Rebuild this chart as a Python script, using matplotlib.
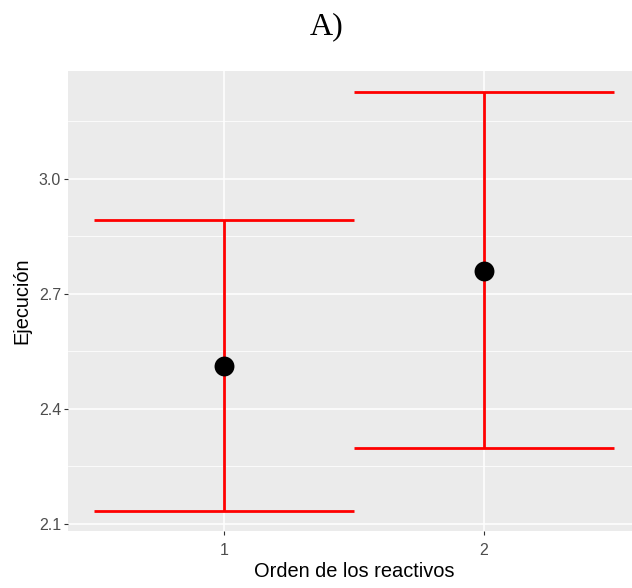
import matplotlib
matplotlib.use("Agg")
import matplotlib.pyplot as plt
from matplotlib.ticker import MultipleLocator

# mean and confidence limits per item order
orden = [1, 2]
media = [2.511, 2.758]
lim_inf = [2.134, 2.298]
lim_sup = [2.893, 3.226]

plt.rcParams['font.family'] = ['Liberation Sans', 'DejaVu Sans']

fig = plt.figure(figsize=(6.32, 5.88), dpi=100)
ax = fig.add_axes([0.1076, 0.0961, 0.905, 0.7832])

ax.set_facecolor('#EBEBEB')
for s in ax.spines.values():
    s.set_visible(False)

# error bars: caps one unit wide, like ggplot's width = 1
for x, lo, hi in zip(orden, lim_inf, lim_sup):
    ax.plot([x, x], [lo, hi], color='#FF0000', lw=2.0, solid_capstyle='butt', zorder=3)
    ax.plot([x - 0.5, x + 0.5], [lo, lo], color='#FF0000', lw=2.0, solid_capstyle='butt', zorder=3)
    ax.plot([x - 0.5, x + 0.5], [hi, hi], color='#FF0000', lw=2.0, solid_capstyle='butt', zorder=3)
ax.scatter(orden, media, s=205, color='black', zorder=4, linewidths=0)

ymin, ymax = min(lim_inf), max(lim_sup)
pad = (ymax - ymin) * 0.05
ax.set_ylim(ymin - pad, ymax + pad)
ax.set_xlim(0.4, 2.6)

ax.set_xticks(orden)
ax.set_xticklabels([str(o) for o in orden])
ax.yaxis.set_major_locator(MultipleLocator(0.3))
ax.yaxis.set_minor_locator(MultipleLocator(0.15))
ax.yaxis.set_major_formatter(plt.FormatStrFormatter('%.1f'))

ax.grid(which='major', color='white', lw=1.1)
ax.grid(which='minor', axis='y', color='white', lw=0.55)
ax.set_axisbelow(True)
ax.tick_params(which='major', length=3, width=0.8, color='#333333',
               labelcolor='#4D4D4D', labelsize=11.5, pad=2)
ax.tick_params(axis='x', which='major', pad=5.5)
ax.tick_params(which='minor', length=0)

ax.set_xlabel('Orden de los reactivos', fontsize=14.4, color='black', labelpad=3)
ax.set_ylabel('Ejecución', fontsize=14.4, color='black', labelpad=5)

fig.text(0.517, 0.954, 'A)', family='Liberation Serif', fontsize=23,
         ha='center', va='center')

fig.savefig('out.png', dpi=100)
